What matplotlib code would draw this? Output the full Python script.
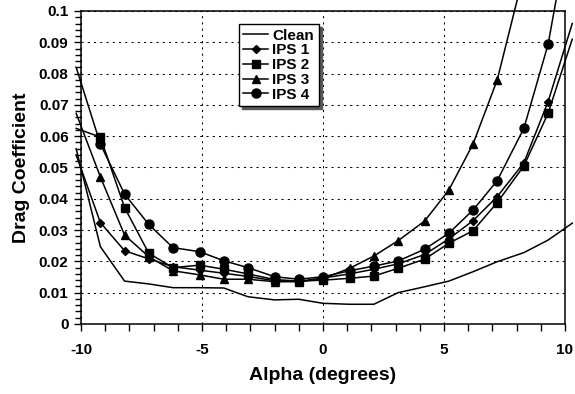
import matplotlib
matplotlib.use('Agg')
import matplotlib.pyplot as plt
from matplotlib.ticker import MultipleLocator, FuncFormatter

# angle of attack sweep (deg) and drag coefficient per configuration
alpha = [-10.2, -9.2, -8.2, -7.2, -6.2, -5.1, -4.1, -3.1, -2.0, -1.0, 0.0,
         1.1, 2.1, 3.1, 4.2, 5.2, 6.2, 7.2, 8.3, 9.3, 10.3]

cd_clean = [0.0560, 0.0247, 0.0137, 0.0128, 0.0116, 0.0116, 0.0115, 0.0087,
            0.0077, 0.0079, 0.0066, 0.0063, 0.0063, 0.0100, 0.0119, 0.0137,
            0.0167, 0.0199, 0.0228, 0.0268, 0.0322]
cd_ips1 = [0.0540, 0.0324, 0.0234, 0.0208, 0.0183, 0.0172, 0.0162, 0.0152,
           0.0138, 0.0136, 0.0147, 0.0160, 0.0175, 0.0192, 0.0222, 0.0272,
           0.0330, 0.0407, 0.0515, 0.0710, 0.0960]
cd_ips2 = [0.0625, 0.0597, 0.0372, 0.0226, 0.0180, 0.0188, 0.0175, 0.0160,
           0.0142, 0.0137, 0.0140, 0.0146, 0.0153, 0.0178, 0.0207, 0.0258,
           0.0298, 0.0388, 0.0505, 0.0673, 0.0910]
cd_ips3 = [0.0673, 0.0470, 0.0284, 0.0215, 0.0170, 0.0157, 0.0143, 0.0143,
           0.0135, 0.0135, 0.0145, 0.0178, 0.0217, 0.0266, 0.0329, 0.0428,
           0.0575, 0.0780, 0.1120]
cd_ips4 = [0.0820, 0.0575, 0.0415, 0.0318, 0.0244, 0.0231, 0.0202, 0.0180,
           0.0151, 0.0143, 0.0151, 0.0170, 0.0185, 0.0201, 0.0239, 0.0290,
           0.0364, 0.0458, 0.0625, 0.0893, 0.1320]

series = [
    ('Clean', cd_clean, None, 0),
    ('IPS 1', cd_ips1, 'D', 4),
    ('IPS 2', cd_ips2, 's', 5.5),
    ('IPS 3', cd_ips3, '^', 6),
    ('IPS 4', cd_ips4, 'o', 6.5),
]

XMIN, XMAX, YMIN, YMAX = -10, 10, 0, 0.1

plt.rcParams['font.family'] = ['Liberation Sans', 'DejaVu Sans']
plt.rcParams['font.weight'] = 'bold'
plt.rcParams['axes.unicode_minus'] = False

fig = plt.figure(figsize=(5.75, 3.94), dpi=100)
ax = fig.add_axes([0.1409, 0.1777, 0.8417, 0.7944])

for name, cd, mk, ms in series:
    xs = alpha[:len(cd)]
    # markers only for points that fall inside the plot area
    inside = [i for i, (x, y) in enumerate(zip(xs, cd))
              if XMIN <= x <= XMAX and YMIN <= y <= YMAX]
    ax.plot(xs, cd, color='black', lw=1.1, marker=mk, ms=ms,
            markevery=inside, label=name, clip_on=False, zorder=3)

ax.set_xlim(XMIN, XMAX)
ax.set_ylim(YMIN, YMAX)

ax.xaxis.set_major_locator(MultipleLocator(5))
ax.xaxis.set_minor_locator(MultipleLocator(1))
ax.yaxis.set_major_locator(MultipleLocator(0.01))
ax.yaxis.set_minor_locator(MultipleLocator(0.002))
ax.xaxis.set_major_formatter(FuncFormatter(lambda v, p: f'{int(round(v))}'))
ax.yaxis.set_major_formatter(
    FuncFormatter(lambda v, p: f'{v:.2f}'.rstrip('0').rstrip('.')))

ax.tick_params(which='major', direction='out', length=5, width=1,
               labelsize=11, colors='black')
ax.tick_params(axis='x', which='major', pad=9)
ax.tick_params(axis='y', which='major', pad=4)
ax.tick_params(axis='x', which='minor', direction='out', length=5, width=1)
ax.tick_params(axis='y', which='minor', direction='out', length=4, width=1)
for lbl in ax.get_xticklabels() + ax.get_yticklabels():
    lbl.set_fontweight('bold')

ax.grid(True, which='major', color='black', lw=0.75, linestyle=(0, (2, 4)))
ax.set_axisbelow(True)
for sp in ax.spines.values():
    sp.set_linewidth(1.1)
    sp.set_color('black')

ax.set_xlabel('Alpha (degrees)', fontsize=14, fontweight='bold', labelpad=7)
ax.set_ylabel('Drag Coefficient', fontsize=14, fontweight='bold', labelpad=6)

leg = ax.legend(loc='upper left', bbox_to_anchor=(0.326, 0.958),
                borderaxespad=0, fontsize=11, frameon=True, fancybox=False,
                shadow={'color': '0.35', 'alpha': 1}, edgecolor='black',
                handlelength=1.6, handletextpad=0.3, labelspacing=0.05,
                borderpad=0.3)
leg.get_frame().set_linewidth(1)
for t in leg.get_texts():
    t.set_fontweight('bold')

fig.savefig('out.png', dpi=100, facecolor='white')
